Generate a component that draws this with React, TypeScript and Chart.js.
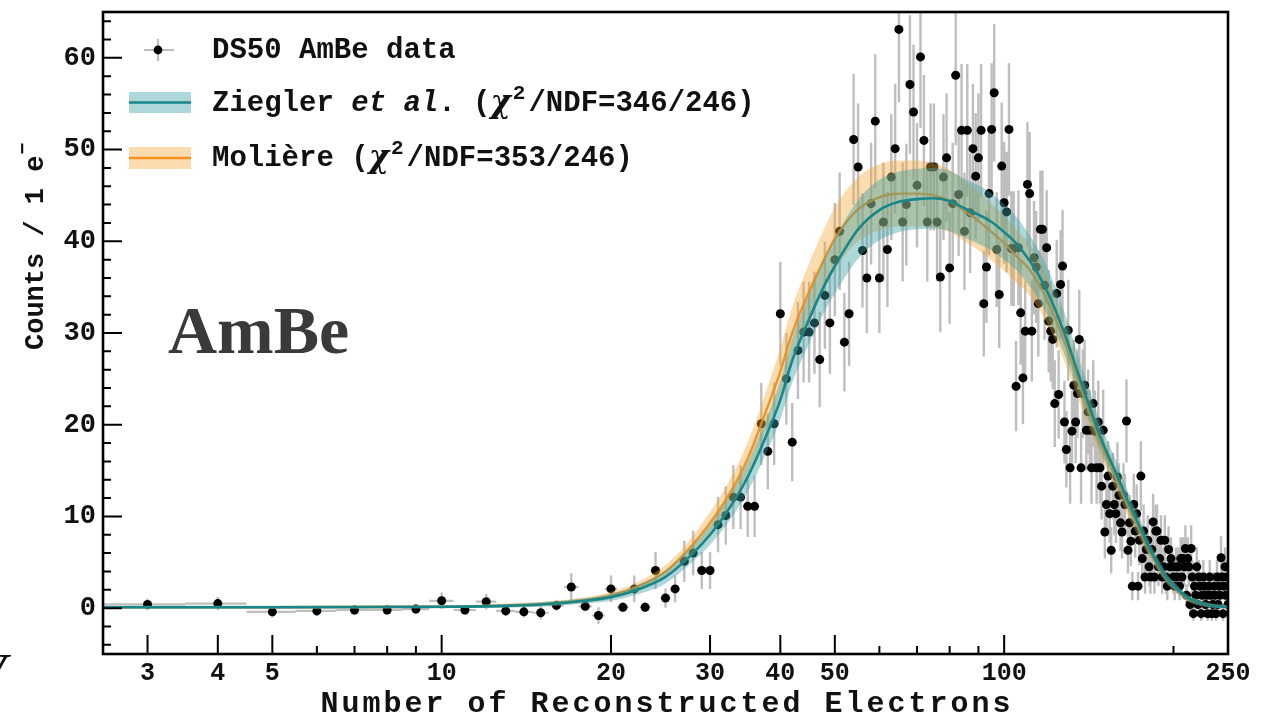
import React, { useEffect, useRef } from 'react';
import { Chart, registerables } from 'chart.js';

Chart.register(...registerables);

const W = 1277;
const H = 719;
const MONO = '"Liberation Mono", "DejaVu Sans Mono", monospace';

// ---- data: DS50 AmBe spectrum (counts per 1 e- bin) ----
const binCenters: number[] = [
  3, 4, 5, 6, 7, 8, 9, 10, 11, 12, 13, 14, 15, 16, 17, 18, 19, 20, 21, 22, 23, 24, 25, 26, 27, 28, 29, 30,
  31, 32, 33, 34, 35, 36, 37, 38, 39, 40, 41, 42, 43, 44, 45, 46, 47, 48, 49, 50,
  51, 52, 53, 54, 55, 56, 57, 58, 59, 60, 61, 62, 63, 64, 65, 66, 67, 68, 69, 70,
  71, 72, 73, 74, 75, 76, 77, 78, 79, 80, 81, 82, 83, 84, 85, 86, 87, 88, 89, 90,
  91, 92, 93, 94, 95, 96, 97, 98, 99, 100, 101, 102, 103, 104, 105, 106, 107, 108, 109, 110,
  111, 112, 113, 114, 115, 116, 117, 118, 119, 120, 121, 122, 123, 124, 125, 126, 127, 128, 129, 130,
  131, 132, 133, 134, 135, 136, 137, 138, 139, 140, 141, 142, 143, 144, 145, 146, 147, 148, 149, 150,
  151, 152, 153, 154, 155, 156, 157, 158, 159, 160, 161, 162, 163, 164, 165, 166, 167, 168, 169, 170,
  171, 172, 173, 174, 175, 176, 177, 178, 179, 180, 181, 182, 183, 184, 185, 186, 187, 188, 189, 190,
  191, 192, 193, 194, 195, 196, 197, 198, 199, 200, 201, 202, 203, 204, 205, 206, 207, 208, 209, 210,
  211, 212, 213, 214, 215, 216, 217, 218, 219, 220, 221, 222, 223, 224, 225, 226, 227, 228, 229, 230,
  231, 232, 233, 234, 235, 236, 237, 238, 239, 240, 241, 242, 243, 244, 245, 246, 247, 248, 249, 250,
];

const binCounts: number[] = [
  0.4, 0.5, -0.4, -0.3, -0.2, -0.2, -0.1, 0.8, -0.2, 0.7, -0.3, -0.4, -0.5, 0.3, 2.3, 0.2, -0.8, 2.1, 0.1, 2.1, 0.1, 4.1, 1.1, 2.1, 5.1, 6.0, 4.1, 4.1,
  9.1, 10.1, 12.1, 12.1, 11.1, 11.1, 20.1, 17.1, 20.1, 32.1, 25.0, 18.1, 28.1, 30.1, 30.1, 31.1, 27.1, 34.1, 31.1, 38.0,
  41.1, 29.0, 32.1, 51.1, 48.1, 39.0, 36.0, 44.1, 53.1, 36.0, 42.1, 39.1, 47.0, 50.1, 63.1, 42.1, 44.0, 57.1, 54.1, 46.1,
  60.1, 51.0, 42.1, 48.1, 48.1, 42.1, 36.1, 47.0, 49.1, 37.1, 44.1, 58.1, 45.1, 52.1, 41.1, 52.1, 43.1, 50.1, 47.1, 49.1,
  52.1, 33.2, 37.2, 45.2, 52.2, 56.2, 39.1, 34.2, 48.2, 44.2, 43.2, 52.2, 39.2, 39.2, 24.2, 39.3, 32.2, 25.1, 30.2, 46.2,
  45.2, 30.2, 38.2, 37.2, 33.2, 41.3, 41.3, 35.2, 39.3, 31.3, 30.2, 29.3, 22.3, 34.3, 23.3, 35.3, 37.3, 20.3, 17.3, 30.3,
  15.3, 19.3, 24.3, 20.3, 23.4, 29.3, 15.3, 23.4, 24.3, 19.4, 21.4, 19.4, 15.3, 22.3, 19.3, 15.3, 20.3, 15.3, 13.3, 19.4,
  8.3, 11.3, 14.4, 10.3, 6.3, 13.3, 11.3, 10.3, 14.3, 12.3, 9.3, 8.3, 12.3, 11.3, 20.4, 6.3, 9.3, 7.3, 2.4, 11.3,
  8.4, 10.3, 2.4, 7.4, 14.4, 5.4, 8.4, 3.4, 6.4, 7.4, 4.5, 3.4, 6.4, 9.4, 3.4, 8.4, 8.4, 4.5, 5.4, 7.4,
  3.4, 4.5, 7.4, 3.4, 2.4, 6.4, 4.5, 5.4, 4.5, 3.4, 2.4, 4.5, 3.4, 4.5, 2.4, 5.4, 3.4, 5.4, 4.5, 6.5,
  1.4, 5.4, 4.5, 0.4, 6.5, 3.4, -0.6, 2.4, 1.4, 4.5, 0.4, 3.4, 2.4, -0.6, 1.4, 3.4, 2.4, 0.4, 1.4, -0.6,
  2.4, 3.4, 1.4, -0.6, 0.4, 2.4, 1.4, -0.6, 3.4, 0.4, 2.4, 1.4, 5.5, 3.4, -0.6, 2.4, 4.5, 1.4, 3.4, 0.4,
];

// ---- model predictions (with systematic bands) ----
const modelX: number[] = [
  2.5, 5, 10, 13, 15, 18, 20, 22, 25, 28, 30, 32, 35, 38, 40, 42, 45, 48, 50, 55, 60, 65, 70, 75, 80, 85, 90,
  95, 100, 105, 110, 115, 120, 125, 130, 135, 140, 145, 150, 155, 160, 165, 170, 175, 180, 185, 190, 195, 200,
  210, 220, 230, 240, 250,
];
const zieglerY: number[] = [
  0.1, 0.1, 0.15, 0.25, 0.4, 0.8, 1.2, 1.9, 3.4, 6.0, 8.0, 10.3, 14.3, 19.2, 22.7, 27.0, 31.5, 35.3, 37.3, 41.3, 43.4, 44.3, 44.6, 44.7, 44.4, 43.6, 42.9,
  42.1, 41.0, 39.8, 38.2, 36.4, 34.2, 31.6, 28.8, 25.8, 23.0, 20.3, 17.9, 15.9, 14.0, 12.0, 10.3, 8.6, 6.9, 5.5, 4.3, 3.2, 2.5,
  1.3, 0.7, 0.35, 0.2, 0.15,
];
const zieglerErr: number[] = [
  0.15, 0.15, 0.15, 0.2, 0.25, 0.3, 0.4, 0.5, 0.7, 0.9, 1.1, 1.3, 1.6, 1.9, 2.1, 2.4, 2.7, 2.9, 3.0, 3.2, 3.3, 3.3, 3.3, 3.3, 3.3, 3.2, 3.2,
  3.1, 3.0, 2.9, 2.8, 2.7, 2.6, 2.4, 2.2, 2.0, 1.8, 1.7, 1.5, 1.4, 1.3, 1.1, 1.0, 0.9, 0.8, 0.7, 0.6, 0.5, 0.45,
  0.35, 0.3, 0.25, 0.2, 0.2,
];
const moliereY: number[] = [
  0.1, 0.1, 0.15, 0.3, 0.45, 0.9, 1.4, 2.2, 4.0, 7.0, 9.3, 11.8, 16.3, 22.0, 25.8, 30.0, 34.5, 38.2, 40.3, 43.5, 44.8, 45.2, 45.2, 45.0, 44.4, 43.3, 42.2,
  41.0, 39.8, 38.4, 37.2, 35.4, 33.2, 30.7, 27.9, 25.0, 22.2, 19.6, 17.3, 15.3, 13.4, 11.5, 9.8, 8.2, 6.6, 5.3, 4.1, 3.1, 2.4,
  1.2, 0.65, 0.35, 0.2, 0.15,
];
const moliereErr: number[] = [
  0.15, 0.15, 0.15, 0.2, 0.25, 0.3, 0.4, 0.5, 0.7, 0.9, 1.2, 1.4, 1.8, 2.2, 2.5, 2.8, 3.1, 3.3, 3.4, 3.5, 3.6, 3.6, 3.6, 3.5, 3.4, 3.3, 3.2,
  3.1, 3.0, 2.9, 2.8, 2.7, 2.5, 2.3, 2.1, 1.9, 1.7, 1.6, 1.4, 1.3, 1.2, 1.1, 1.0, 0.9, 0.8, 0.7, 0.6, 0.5, 0.45,
  0.35, 0.3, 0.25, 0.2, 0.2,
];

// ---- axes ----
const xMajorTicks: number[] = [3, 4, 5, 10, 20, 30, 40, 50, 100, 250];
const xMinorTicks: number[] = [6, 7, 8, 9, 60, 70, 80, 90, 200];
const yMajorTicks: number[] = [0, 10, 20, 30, 40, 50, 60];
const yMinorTicks: number[] = [-4, -2, 2, 4, 6, 8, 12, 14, 16, 18, 22, 24, 26, 28, 32, 34, 36, 38, 42, 44, 46, 48, 52, 54, 56, 58, 62, 64];

const TEAL = '#17878a';
const TEAL_FILL = 'rgba(60,160,162,0.42)';
const ORANGE = 'rgba(240,140,20,0.9)';
const ORANGE_LEGEND = '#f5921e';
const ORANGE_FILL = 'rgba(245,168,60,0.40)';
const ERR_GRAY = 'rgba(150,150,150,0.62)';

function poissonErr(y: number): number {
  return Math.sqrt(Math.max(Math.abs(y), 0.3));
}

const decorPlugin = {
  id: 'decor',
  afterDraw(chart: any) {
    const { ctx, chartArea: a, scales } = chart;
    const xs = scales.x;
    const ys = scales.y;
    ctx.save();
    ctx.strokeStyle = '#000';
    ctx.lineWidth = 2;
    ctx.beginPath();
    for (const v of xMajorTicks) {
      const px = xs.getPixelForValue(v);
      ctx.moveTo(px, a.bottom);
      ctx.lineTo(px, a.bottom - 19);
    }
    for (const v of xMinorTicks) {
      const px = xs.getPixelForValue(v);
      ctx.moveTo(px, a.bottom);
      ctx.lineTo(px, a.bottom - 8);
    }
    for (const v of yMajorTicks) {
      const py = ys.getPixelForValue(v);
      ctx.moveTo(a.left, py);
      ctx.lineTo(a.left + 19, py);
    }
    for (const v of yMinorTicks) {
      const py = ys.getPixelForValue(v);
      ctx.moveTo(a.left, py);
      ctx.lineTo(a.left + 8, py);
    }
    ctx.stroke();
    ctx.lineWidth = 2.6;
    ctx.strokeRect(a.left, a.top, a.right - a.left, a.bottom - a.top);

    // legend
    ctx.textBaseline = 'middle';
    ctx.textAlign = 'left';
    const tx = 212;
    ctx.strokeStyle = ERR_GRAY;
    ctx.lineWidth = 2.2;
    ctx.beginPath();
    ctx.moveTo(144, 50); ctx.lineTo(174, 50);
    ctx.moveTo(158, 39); ctx.lineTo(158, 61);
    ctx.stroke();
    ctx.fillStyle = '#000';
    ctx.beginPath();
    ctx.arc(158, 50, 4.4, 0, Math.PI * 2);
    ctx.fill();
    ctx.fillStyle = '#111';
    ctx.font = `bold 29px ${MONO}`;
    ctx.fillText('DS50 AmBe data', tx, 51);

    const drawRich = (x: number, y: number, segs: { t: string; f: string; dy?: number; gap?: number }[]) => {
      for (const s of segs) {
        ctx.font = s.f;
        ctx.fillText(s.t, x, y + (s.dy || 0));
        x += ctx.measureText(s.t).width + (s.gap || 0);
      }
    };
    const B = `bold 29px ${MONO}`;
    const BI = `italic bold 29px ${MONO}`;
    const CHI = 'italic bold 31px "DejaVu Serif", serif';
    const SUP = `bold 21px ${MONO}`;

    ctx.fillStyle = TEAL_FILL;
    ctx.fillRect(129, 92, 62, 21);
    ctx.strokeStyle = TEAL;
    ctx.lineWidth = 2.6;
    ctx.beginPath(); ctx.moveTo(129, 102.5); ctx.lineTo(191, 102.5); ctx.stroke();
    ctx.fillStyle = '#111';
    drawRich(tx, 104, [
      { t: 'Ziegler ', f: B },
      { t: 'et al', f: BI },
      { t: '. (', f: B },
      { t: 'χ', f: CHI, dy: 0, gap: 2 },
      { t: '2', f: SUP, dy: -10, gap: 3 },
      { t: '/NDF=346/246)', f: B },
    ]);

    ctx.fillStyle = 'rgba(250,200,130,0.65)';
    ctx.fillRect(129, 147, 62, 22);
    ctx.strokeStyle = ORANGE_LEGEND;
    ctx.lineWidth = 2.6;
    ctx.beginPath(); ctx.moveTo(129, 158); ctx.lineTo(191, 158); ctx.stroke();
    ctx.fillStyle = '#111';
    drawRich(tx, 159, [
      { t: 'Molière (', f: B },
      { t: 'χ', f: CHI, dy: 0, gap: 2 },
      { t: '2', f: SUP, dy: -10, gap: 3 },
      { t: '/NDF=353/246)', f: B },
    ]);

    // AmBe label
    ctx.fillStyle = '#3a3a3a';
    ctx.font = 'bold 68px "Liberation Serif", "DejaVu Serif", serif';
    ctx.textBaseline = 'alphabetic';
    ctx.fillText('AmBe', 168, 353);

    // x title
    ctx.fillStyle = '#111';
    ctx.font = `bold 30px ${MONO}`;
    ctx.textBaseline = 'middle';
    ctx.textAlign = 'center';
    (ctx as any).letterSpacing = '3px';
    ctx.fillText('Number of Reconstructed Electrons', 667, 704);
    (ctx as any).letterSpacing = '0px';

    // y title (rotated)
    ctx.save();
    ctx.translate(36, 250);
    ctx.rotate(-Math.PI / 2);
    ctx.textAlign = 'left';
    ctx.font = `bold 27px ${MONO}`;
    const main = 'Counts / 1 e';
    ctx.fillText(main, -100, 0);
    const mw = ctx.measureText(main).width;
    ctx.font = `bold 20px ${MONO}`;
    ctx.fillText('−', -100 + mw + 1, -12);
    ctx.restore();

    // stray glyph at the left edge
    ctx.font = 'italic 58px "Liberation Serif", serif';
    ctx.textAlign = 'left';
    ctx.textBaseline = 'alphabetic';
    ctx.fillStyle = '#111';
    ctx.fillText('V', -30, 693);

    ctx.restore();
  },
};

export default function App() {
  const ref = useRef<HTMLCanvasElement | null>(null);

  useEffect(() => {
    if (!ref.current) return;
    document.body.style.margin = '0';

    const vBars: any[] = [];
    const hBars: any[] = [];
    const points: any[] = [];
    binCenters.forEach((x, i) => {
      const y = binCounts[i];
      const e = poissonErr(y);
      vBars.push({ x, y: y - e }, { x, y: y + e }, { x, y: null });
      hBars.push({ x: x - 0.5, y }, { x: x + 0.5, y }, { x, y: null });
      points.push({ x, y });
    });
    const band = (ys: number[], es: number[], s: number) => modelX.map((x, i) => ({ x, y: ys[i] + s * es[i] }));
    const curve = (ys: number[]) => modelX.map((x, i) => ({ x, y: ys[i] }));

    const common = { showLine: true, pointRadius: 0, cubicInterpolationMode: 'monotone' as const, spanGaps: false };

    const chart = new Chart(ref.current, {
      type: 'scatter',
      data: {
        datasets: [
          { type: 'line', label: 'Ziegler', data: curve(zieglerY), borderColor: TEAL, borderWidth: 2.6, fill: false, order: 0, ...common },
          { type: 'line', label: 'Ziegler up', data: band(zieglerY, zieglerErr, 1), borderWidth: 0, backgroundColor: TEAL_FILL, fill: '+1', order: 1, ...common },
          { type: 'line', label: 'Ziegler lo', data: band(zieglerY, zieglerErr, -1), borderWidth: 0, fill: false, order: 1, ...common },
          { type: 'line', label: 'Moliere', data: curve(moliereY), borderColor: ORANGE, borderWidth: 2.4, fill: false, order: 2, ...common },
          { type: 'line', label: 'Moliere up', data: band(moliereY, moliereErr, 1), borderWidth: 0, backgroundColor: ORANGE_FILL, fill: '+1', order: 3, ...common },
          { type: 'line', label: 'Moliere lo', data: band(moliereY, moliereErr, -1), borderWidth: 0, fill: false, order: 3, ...common },
          { type: 'scatter', label: 'DS50 AmBe data', data: points, pointRadius: 4.5, pointBackgroundColor: '#000', pointBorderWidth: 0, order: 4 },
          { type: 'line', label: 'xerr', data: hBars, borderColor: ERR_GRAY, borderWidth: 2.2, pointRadius: 0, showLine: true, spanGaps: false, fill: false, order: 5 },
          { type: 'line', label: 'yerr', data: vBars, borderColor: ERR_GRAY, borderWidth: 2.4, pointRadius: 0, showLine: true, spanGaps: false, fill: false, order: 6 },
        ] as any,
      },
      options: {
        animation: false,
        responsive: false,
        devicePixelRatio: 1,
        events: [],
        layout: { padding: { left: 0, right: 49, top: 12, bottom: 0 } },
        plugins: { legend: { display: false }, tooltip: { enabled: false } },
        scales: {
          x: {
            type: 'logarithmic',
            min: 2.5,
            max: 250,
            grid: { display: false, drawTicks: false },
            border: { display: false },
            afterBuildTicks: (s: any) => {
              s.ticks = xMajorTicks.map((v) => ({ value: v }));
            },
            afterFit: (s: any) => {
              s.height = 65;
              s.paddingLeft = 0;
              s.paddingRight = 0;
            },
            ticks: {
              autoSkip: false,
              maxRotation: 0,
              padding: 5,
              color: '#111',
              font: { family: MONO, size: 25, weight: 'bold' },
              callback: (v: any) => String(v),
            },
          },
          y: {
            type: 'linear',
            min: -5,
            max: 65,
            grid: { display: false, drawTicks: false },
            border: { display: false },
            afterBuildTicks: (s: any) => {
              s.ticks = yMajorTicks.map((v) => ({ value: v }));
            },
            afterFit: (s: any) => {
              s.width = 103;
              s.paddingTop = 0;
              s.paddingBottom = 0;
            },
            ticks: {
              padding: 7,
              color: '#111',
              font: { family: MONO, size: 27, weight: 'bold' },
              callback: (v: any) => String(v),
            },
          },
        },
      } as any,
      plugins: [decorPlugin],
    });
    return () => chart.destroy();
  }, []);

  return (
    <div style={{ position: 'fixed', left: 0, top: 0, width: W, height: H, background: '#fff' }}>
      <canvas ref={ref} width={W} height={H} style={{ width: W, height: H, display: 'block' }} />
    </div>
  );
}
